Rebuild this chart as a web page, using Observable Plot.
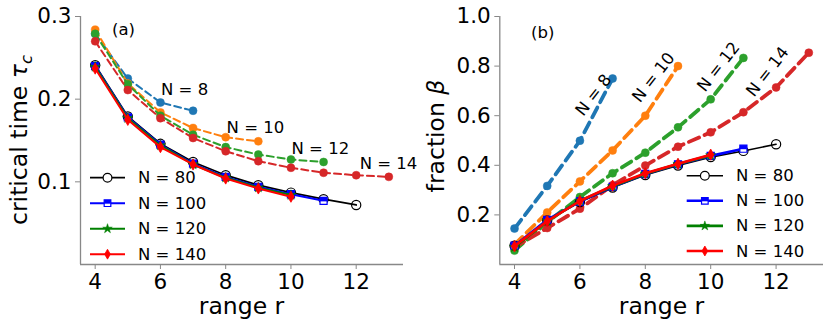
<!DOCTYPE html>
<html><head><meta charset="utf-8">
<script src="https://cdn.jsdelivr.net/npm/d3@7"></script>
<script src="https://cdn.jsdelivr.net/npm/@observablehq/plot@0.6"></script>
<style>
body{margin:0;background:#fff;font-family:"DejaVu Sans",sans-serif;}
#wrap{position:relative;width:830px;height:330px;overflow:hidden;background:#fff}
#a{position:absolute;left:0;top:0}
#b{position:absolute;left:415px;top:0}
</style></head><body><div id="wrap"><div id="a"></div><div id="b"></div></div>
<script>
// ---------- data ----------
const rangeR = [4,5,6,7,8,9,10,11,12,13];
const xTicks = [4,6,8,10,12];
const yTicksA = [0.1,0.2,0.3];
const yTicksB = [0.2,0.4,0.6,0.8,1.0];
const yTickLabelsB = ["0.2","0.4","0.6","0.8","1.0"];

// panel (a): critical time tau_c
const tauN8   = [0.279,0.225,0.196,0.186];
const tauN10  = [0.284,0.219,0.184,0.165,0.154,0.149];
const tauN12  = [0.279,0.218,0.180,0.157,0.142,0.133,0.127,0.124];
const tauN14  = [0.270,0.211,0.177,0.153,0.137,0.125,0.117,0.111,0.108,0.106];
const tauN80  = [0.241,0.179,0.146,0.124,0.108,0.096,0.087,0.079,0.072];
const tauN100 = [0.240,0.178,0.145,0.122,0.106,0.094,0.085,0.077];
const tauN120 = [0.239,0.177,0.144,0.121,0.105,0.093,0.084];
const tauN140 = [0.237,0.175,0.142,0.121,0.104,0.092,0.082];

// panel (b): fraction beta
const betaN8   = [0.145,0.317,0.499,0.750];
const betaN10  = [0.080,0.210,0.335,0.460,0.600,0.800];
const betaN12  = [0.056,0.170,0.272,0.368,0.451,0.553,0.666,0.833];
const betaN14  = [0.070,0.147,0.225,0.320,0.399,0.475,0.533,0.614,0.714,0.854];
const betaN80  = [0.076,0.178,0.252,0.310,0.361,0.399,0.433,0.458,0.485];
const betaN100 = [0.076,0.180,0.254,0.313,0.365,0.404,0.438,0.467];
const betaN120 = [0.070,0.175,0.257,0.315,0.366,0.405,0.440];
const betaN140 = [0.074,0.175,0.256,0.318,0.368,0.406,0.443];

const smallNames = ["N = 8","N = 10","N = 12","N = 14"];
const smallColors = ["#1f77b4","#ff7f0e","#2ca02c","#d62728"];
const bigNames = ["N = 80","N = 100","N = 120","N = 140"];
const bigColors = ["#000000","#0000ff","#008000","#ff0000"];

// annotation anchor points (data coords)
const annA = [{t:"N = 8",r:6.74,v:0.2116},{t:"N = 10",r:8.91,v:0.166},{t:"N = 12",r:10.9,v:0.1406},{t:"N = 14",r:12.99,v:0.122}];
const annB = [{t:"N = 8",r:6.42,v:0.683},{t:"N = 10",r:8.25,v:0.754},{t:"N = 12",r:10.24,v:0.797},{t:"N = 14",r:11.74,v:0.777}];

// ---------- helpers ----------
const toRows = vals => vals.map((v,i)=>({r:rangeR[i], v}));
const halfSquare = {draw(ctx, size){const w=Math.sqrt(size)/2; ctx.moveTo(-w,-w); ctx.lineTo(w,-w); ctx.lineTo(w,w*0.15); ctx.lineTo(-w,w*0.15); ctx.closePath();}};
const xDomain = [3.55, 13.45];

function panel(o){
  const small = o.small.map(toRows), big = o.big.map(toRows);
  const marks = [];
  small.forEach((d,i)=>{
    marks.push(Plot.line(d,{x:"r",y:"v",stroke:smallColors[i],strokeWidth:o.dashW,strokeDasharray:o.dash}));
    marks.push(Plot.dot(d,{x:"r",y:"v",r:4,fill:smallColors[i],stroke:smallColors[i],strokeWidth:0.5}));
  });
  // N=80
  marks.push(Plot.line(big[0],{x:"r",y:"v",stroke:"#000",strokeWidth:o.solidW[0]}));
  marks.push(Plot.dot(big[0],{x:"r",y:"v",r:4.6,symbol:"circle",fill:"none",stroke:"#000",strokeWidth:1.2}));
  // N=100
  marks.push(Plot.line(big[1],{x:"r",y:"v",stroke:"#0000ff",strokeWidth:o.solidW[1]}));
  marks.push(Plot.dot(big[1],{x:"r",y:"v",r:4,symbol:"square",fill:"#fff",stroke:"#0000ff",strokeWidth:1.2}));
  marks.push(Plot.dot(big[1],{x:"r",y:"v",r:4,symbol:halfSquare,fill:"#0000ff"}));
  // N=120
  marks.push(Plot.line(big[2],{x:"r",y:"v",stroke:"#008000",strokeWidth:o.solidW[2]}));
  marks.push(Plot.dot(big[2],{x:"r",y:"v",r:3.2,symbol:"star",fill:"#008000",stroke:"#008000",strokeWidth:0.5}));
  // N=140
  marks.push(Plot.line(big[3],{x:"r",y:"v",stroke:"#ff0000",strokeWidth:o.solidW[3]}));
  marks.push(Plot.dot(big[3],{x:"r",y:"v",r:3.4,symbol:"diamond",fill:"#ff0000",stroke:"#ff0000",strokeWidth:0.8}));
  // annotations
  marks.push(Plot.text(o.ann,{x:"r",y:"v",text:"t",fontSize:16.5,fill:"#000",rotate:o.rot,fontFamily:"DejaVu Sans"}));
  // spines & axes
  marks.push(Plot.ruleX([xDomain[0]],{stroke:"#888",strokeWidth:1.3}));
  marks.push(Plot.ruleY([o.yDomain[0]],{stroke:"#888",strokeWidth:1.3}));
  marks.push(Plot.axisX(xTicks,{tickSize:5,tickPadding:4,stroke:"#888",fill:"#000",fontSize:21.5,label:null}));
  marks.push(Plot.axisY(o.yTicks,{tickSize:5,tickPadding:4,stroke:"#888",fill:"#000",fontSize:21.5,label:null,tickFormat:o.yFmt}));

  const svg = Plot.plot({
    width:o.width, height:330,
    marginLeft:o.ml, marginRight:o.mr, marginTop:16, marginBottom:66,
    x:{domain:xDomain},
    y:{domain:o.yDomain},
    style:{background:"transparent",overflow:"visible",fontFamily:"DejaVu Sans",color:"#000"},
    marks
  });
  const s = d3.select(svg);
  // axis labels
  s.append("text").attr("x",o.xLab[0]).attr("y",o.xLab[1]).attr("text-anchor","middle")
    .attr("font-size",23.5).attr("font-family","DejaVu Sans").attr("fill","#000").text("range r");
  const yl = s.append("text").attr("transform",`translate(${o.yLab[0]},${o.yLab[1]}) rotate(-90)`)
    .attr("text-anchor","middle").attr("font-size",23.5).attr("font-family","DejaVu Sans").attr("fill","#000");
  o.yLabel(yl);
  // panel tag
  s.append("text").attr("x",o.tag[0]).attr("y",o.tag[1]).attr("font-size",16.5).attr("text-anchor","start")
    .attr("font-family","DejaVu Sans").attr("fill","#000").attr("dominant-baseline","central").text(o.tagText);
  // legend
  bigNames.forEach((n,i)=>{
    const y = o.leg.y0 + i*o.leg.dy;
    const g = s.append("g");
    g.append("line").attr("x1",o.leg.x0).attr("x2",o.leg.x1).attr("y1",y).attr("y2",y)
      .attr("stroke",bigColors[i]).attr("stroke-width",o.solidW[i]);
    const cx = (o.leg.x0+o.leg.x1)/2;
    if(i===0) g.append("circle").attr("cx",cx).attr("cy",y).attr("r",4.4).attr("fill","#fff").attr("stroke","#000").attr("stroke-width",1.2);
    if(i===1){
      g.append("path").attr("d",d3.symbol(d3.symbolSquare,Math.PI*14)()).attr("transform",`translate(${cx},${y})`).attr("fill","#fff").attr("stroke","#0000ff").attr("stroke-width",1.2);
      g.append("path").attr("d",d3.symbol(halfSquare,Math.PI*14)()).attr("transform",`translate(${cx},${y})`).attr("fill","#0000ff");
    }
    if(i===2) g.append("path").attr("d",d3.symbol(d3.symbolStar,Math.PI*3*3)()).attr("transform",`translate(${cx},${y})`).attr("fill","#008000").attr("stroke","#008000").attr("stroke-width",0.5);
    if(i===3) g.append("path").attr("d",d3.symbol(d3.symbolDiamond,Math.PI*3*3)()).attr("transform",`translate(${cx},${y})`).attr("fill","#ff0000").attr("stroke","#ff0000").attr("stroke-width",0.8);
    g.append("text").attr("x",o.leg.tx).attr("y",y).attr("dominant-baseline","central").attr("text-anchor","start")
      .attr("font-size",16.5).attr("font-family","DejaVu Sans").attr("fill","#000").text(n);
  });
  return svg;
}

document.getElementById("a").appendChild(panel({
  width:430, ml:80, mr:27, yDomain:[0,0.3], yTicks:yTicksA, yFmt:d=>d3.format(".1f")(d),
  small:[tauN8,tauN10,tauN12,tauN14], big:[tauN80,tauN100,tauN120,tauN140],
  dash:"7,4", dashW:2, solidW:[1.8,2,2,2], ann:annA, rot:0,
  xLab:[241.5,314], yLab:[27,140],
  yLabel: t=>{t.append("tspan").text("critical time ");
              t.append("tspan").attr("font-style","italic").text("τ");
              t.append("tspan").attr("font-style","italic").attr("font-size",16.5).attr("dy",5).text("c");},
  tag:[112,29], tagText:"(a)",
  leg:{x0:90,x1:125,tx:138,y0:177.7,dy:25.5}
}));
document.getElementById("b").appendChild(panel({
  width:415, ml:84.3, mr:7, yDomain:[0,1], yTicks:yTicksB, yFmt:(d,i)=>yTickLabelsB[i],
  small:[betaN8,betaN10,betaN12,betaN14], big:[betaN80,betaN100,betaN120,betaN140],
  dash:"11,6", dashW:3.8, solidW:[1.6,2.6,2.6,2.6], ann:annB, rot:-52,
  xLab:[661.5-415,314], yLab:[444-415,136],
  yLabel: t=>{t.append("tspan").text("fraction ");
              t.append("tspan").attr("font-style","italic").text("β");},
  tag:[531-415,32.7], tagText:"(b)",
  leg:{x0:686.7-415,x1:723-415,tx:736-415,y0:175.7,dy:25.1}
}));
</script></body></html>
